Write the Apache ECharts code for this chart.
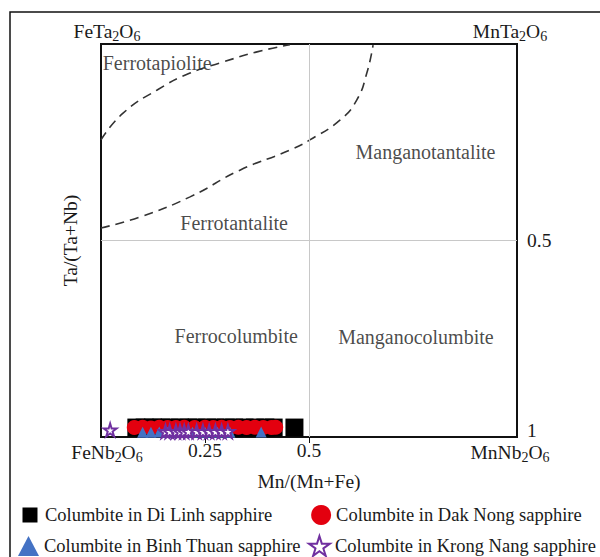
<!DOCTYPE html>
<html><head><meta charset="utf-8">
<script src="https://cdn.jsdelivr.net/npm/echarts@6/dist/echarts.min.js"></script>
<style>html,body{margin:0;padding:0;background:#fff}#c{width:600px;height:557px}</style>
</head><body><div id="c"></div>
<script>
// Series data: [Mn/(Mn+Fe), Ta/(Ta+Nb)]
const diLinh = [[0.085,0.024],[0.105,0.024],[0.125,0.024],[0.145,0.024],[0.165,0.024],[0.19,0.024],[0.21,0.024],[0.23,0.024],[0.255,0.024],[0.275,0.024],[0.3,0.024],[0.32,0.024],[0.345,0.024],[0.37,0.024],[0.395,0.024],[0.415,0.024],[0.465,0.024]];
const dakNong = [[0.08,0.024],[0.1,0.025],[0.12,0.023],[0.14,0.025],[0.16,0.024],[0.18,0.024],[0.2,0.025],[0.225,0.024],[0.25,0.025],[0.27,0.024],[0.29,0.025],[0.31,0.024],[0.33,0.025],[0.35,0.024],[0.37,0.025],[0.39,0.024],[0.41,0.024],[0.42,0.025]];
const binhThuan = [[0.1,0.012],[0.12,0.012],[0.14,0.013],[0.16,0.012],[0.18,0.012],[0.2,0.013],[0.22,0.012],[0.25,0.012],[0.28,0.012],[0.31,0.012],[0.385,0.013]];
const krongNang = [[0.022,0.018],[0.155,0.014],[0.165,0.014],[0.18,0.014],[0.19,0.014],[0.2,0.014],[0.21,0.014],[0.23,0.014],[0.245,0.014],[0.26,0.014],[0.275,0.014],[0.29,0.014],[0.305,0.014]];
// Dashed field boundaries
const tapioliteBoundary = [[0,0.756],[0.053,0.824],[0.135,0.883],[0.214,0.926],[0.293,0.954],[0.375,0.98],[0.454,0.998]];
const tantaliteBoundary = [[0,0.532],[0.094,0.56],[0.214,0.611],[0.334,0.679],[0.454,0.73],[0.502,0.756],[0.575,0.807],[0.615,0.858],[0.639,0.926],[0.654,0.997]];
// Field names and positions
const regionLabels = [['Ferrotapiolite',0.135,0.952],['Ferrotantalite',0.32,0.545],['Manganotantalite',0.78,0.725],['Ferrocolumbite',0.325,0.257],['Manganocolumbite',0.757,0.254]];
const seriesNames = ['Columbite in Di Linh sapphire','Columbite in Dak Nong sapphire','Columbite in Binh Thuan sapphire','Columbite in Krong Nang sapphire'];
const xTickValues = [0,0.25,0.5,1];
const xTickLabels = ['{fl|FeNb}{s|2}{n|O}{s|6}','{n|0.25}','{n|0.5}','{n|MnNb}{s|2}{n|O}{sr|6}'];
const topLabels = ['{fl|FeTa}{s|2}{n|O}{s|6}','{n|MnTa}{s|2}{n|O}{sr|6}'];
const rightTickValues = [0,0.5];
const rightTickLabels = ['{up|1}','{n|0.5}'];

const FONT = 'Liberation Serif';
const TXT = '#1a1a1a';
const STAR = 'path://M50,0 L61,35 L98,35 L68,57 L79,91 L50,70 L21,91 L32,57 L2,35 L39,35 Z';
const SQUARE = 'path://M0,0L0.01,0M20,20L20.01,20M2.5,2.5h15v15h-15z';
const rich = {
  n:{fontFamily:FONT,fontSize:19.5,color:TXT},
  fl:{fontFamily:FONT,fontSize:19.5,color:TXT,padding:[0,0,0,12]},
  s:{fontFamily:FONT,fontSize:14,color:TXT,padding:[10,0,0,0]},
  sr:{fontFamily:FONT,fontSize:14,color:TXT,padding:[10,14,0,0]},
  up:{fontFamily:FONT,fontSize:19.5,color:TXT,padding:[0,0,14,0]}
};

const chart = echarts.init(document.getElementById('c'), null, {renderer:'svg'});
const gridBox = {left:101, top:44, width:416, height:393};
chart.setOption({
  animation:false,
  backgroundColor:'#fff',
  textStyle:{fontFamily:FONT},
  grid:Object.assign({show:true, borderColor:'#111', borderWidth:2, backgroundColor:'transparent'}, gridBox),
  graphic:[{type:'rect', shape:{x:10,y:12,width:620,height:580}, style:{fill:'none', stroke:'#111', lineWidth:1.5}, silent:true, z:-10}],
  xAxis:[
    {type:'value', min:0, max:1, interval:0.25, position:'bottom',
     axisLine:{show:false}, splitLine:{show:false},
     axisTick:{show:true, customValues:[0.25,0.5], length:6, lineStyle:{color:'#111'}},
     axisLabel:{customValues:xTickValues, margin:3, rich:rich,
       formatter:function(v){const i=xTickValues.indexOf(v);return i>=0?xTickLabels[i]:'';}},
     name:'Mn/(Mn+Fe)', nameLocation:'middle', nameGap:34,
     nameTextStyle:{fontFamily:FONT,fontSize:19.5,color:TXT}},
    {type:'value', min:0, max:1, interval:0.25, position:'top',
     axisLine:{show:false}, splitLine:{show:false}, axisTick:{show:false},
     axisLabel:{customValues:[0,1], margin:1, rich:rich,
       formatter:function(v){return v===0?topLabels[0]:(v===1?topLabels[1]:'');}}}
  ],
  yAxis:[
    {type:'value', min:0, max:1, position:'left',
     axisLine:{show:false}, splitLine:{show:false}, axisTick:{show:false}, axisLabel:{show:false},
     name:'Ta/(Ta+Nb)', nameLocation:'middle', nameGap:21, nameRotate:90,
     nameTextStyle:{fontFamily:FONT,fontSize:19.5,color:TXT}},
    {type:'value', min:0, max:1, position:'right',
     axisLine:{show:false}, splitLine:{show:false},
     axisTick:{show:true, customValues:[0.5], length:6, lineStyle:{color:'#111'}},
     axisLabel:{customValues:rightTickValues, margin:10, rich:rich,
       formatter:function(v){const i=rightTickValues.indexOf(v);return i>=0?rightTickLabels[i]:'';}}}
  ],
  legend:[
    {data:[{name:seriesNames[0],icon:SQUARE},{name:seriesNames[1],icon:'circle'}],
     left:20, top:505, itemWidth:20, itemHeight:20, itemGap:39, orient:'horizontal', padding:0,
     textStyle:{fontFamily:FONT,fontSize:18.5,color:TXT}},
    {data:[{name:seriesNames[2],icon:'triangle'},{name:seriesNames[3],icon:STAR}],
     left:18, top:535, itemWidth:21, itemHeight:20, itemGap:7, orient:'horizontal', padding:0,
     textStyle:{fontFamily:FONT,fontSize:18.5,color:TXT}}
  ],
  series:[
    {type:'line', name:'grid', data:[], silent:true,
     markLine:{silent:true, symbol:['none','none'], label:{show:false},
       lineStyle:{color:'#c8c8c8', width:1, type:'solid'},
       data:[{xAxis:0.5},{yAxis:0.5}]}},
    {type:'line', name:'b1', data:tapioliteBoundary, smooth:true, showSymbol:false, silent:true,
     lineStyle:{color:'#333', width:1.6, type:[9,6]}},
    {type:'line', name:'b2', data:tantaliteBoundary, smooth:true, showSymbol:false, silent:true,
     lineStyle:{color:'#333', width:1.6, type:[9,6]}},
    {type:'scatter', name:seriesNames[0], data:diLinh, symbol:'rect', symbolSize:18,
     itemStyle:{color:'#000', opacity:1}},
    {type:'scatter', name:seriesNames[1], data:dakNong, symbol:'circle', symbolSize:15,
     itemStyle:{color:'#e3000f', opacity:1}},
    {type:'scatter', name:seriesNames[2], data:binhThuan, symbol:'triangle', symbolSize:11,
     itemStyle:{color:'#4472c4', opacity:1}},
    {type:'scatter', name:seriesNames[3], data:krongNang, symbol:STAR, symbolSize:13,
     itemStyle:{color:'#fff', borderColor:'#7030a0', borderWidth:2, opacity:1}},
    {type:'scatter', name:'fields', silent:true, symbolSize:0,
     data:regionLabels.map(r=>({value:[r[1],r[2]], name:r[0]})),
     label:{show:true, position:'inside', formatter:p=>p.name,
       fontFamily:FONT, fontSize:20, color:TXT}}
  ]
});
</script></body></html>
